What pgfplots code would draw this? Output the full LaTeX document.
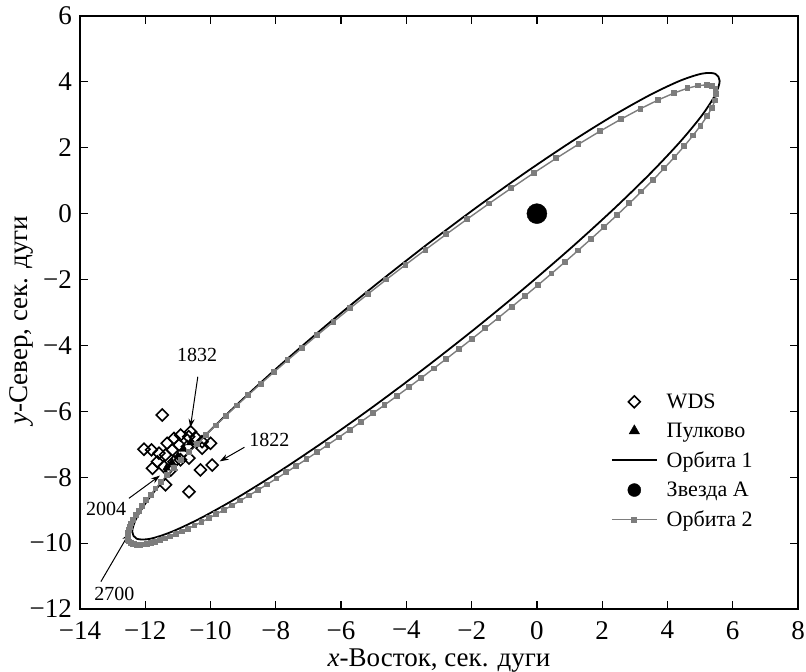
\documentclass[border=0pt]{standalone}
\usepackage{fontspec}
\setmainfont{Liberation Serif}
\usepackage{pgfplots}
\pgfplotsset{compat=1.18}
\usetikzlibrary{arrows.meta}
\definecolor{orbgray}{RGB}{125,125,125}
\begin{document}
\begin{tikzpicture}
\useasboundingbox (-80pt,-63pt) rectangle (726pt,609pt);
\begin{axis}[
  at={(0pt,0pt)}, anchor=south west,
  scale only axis, width=718pt, height=593pt,
  xmin=-14, xmax=8, ymin=-12, ymax=6,
  xtick={-14,-12,...,8}, ytick={-12,-10,...,6},
  xticklabels={−14,−12,−10,−8,−6,−4,−2,0,2,4,6,8},
  yticklabels={−12,−10,−8,−6,−4,−2,0,2,4,6},
  tick align=inside, major tick length=8pt,
  axis line style={line width=1.2pt},
  tick style={line width=1.2pt, black},
  tick label style={font=\fontsize{27}{30}\selectfont, inner sep=0pt},
  xticklabel style={yshift=-12pt},
  yticklabel style={xshift=-8pt},
  label style={font=\fontsize{27}{30}\selectfont},
  xlabel={\textit{x}-Восток, сек. дуги},
  ylabel={\textit{y}-Север, сек. дуги},
  xlabel style={at={(axis description cs:0.5,0)}, anchor=base, yshift=-57pt},
  ylabel style={at={(axis description cs:-0.081,0.487)}, anchor=center},
  legend style={at={(0.735,0.37)}, anchor=north west, draw=none, fill=none,
    font=\fontsize{22}{24}\selectfont, row sep=9pt, nodes={inner sep=2pt},
    /tikz/every odd column/.append style={column sep=7pt}},
  legend cell align=left,
  legend image code/.code={\draw[mark repeat=2,mark phase=2,#1] plot coordinates {(0pt,0pt) (22.5pt,0pt) (45pt,0pt)};},
]
% WDS
\addplot[only marks, mark=square, mark size=4.2pt, mark options={rotate=45, line width=1.6pt, black}] coordinates {
(-11.48,-6.11) (-12.04,-7.15) (-11.81,-7.17) (-11.58,-7.27) (-11.38,-7.32)
(-11.12,-6.82) (-10.92,-6.72) (-10.67,-6.77) (-10.46,-6.79) (-10.26,-6.92)
(-10.00,-6.97) (-10.26,-7.12) (-9.95,-7.63) (-10.31,-7.78) (-10.66,-7.42)
(-10.97,-7.02) (-11.17,-7.17) (-11.63,-7.53) (-11.43,-7.68) (-11.78,-7.73)
(-11.22,-7.78) (-11.38,-8.23) (-10.66,-8.44) (-11.12,-7.53) (-10.92,-7.47)
(-10.71,-7.07) (-11.33,-6.97) (-10.61,-6.62)
};
\addlegendentry{WDS}
% Pulkovo
\addplot[only marks, mark=triangle*, mark size=4.5pt, black, legend image post style={mark size=6pt}] coordinates {
(-10.62,-6.95) (-10.82,-7.15) (-11.0,-7.35) (-11.18,-7.55) (-11.35,-7.72)
};
\addlegendentry{Пулково}
% Orbit 1
\addplot[black, line width=1.8pt, smooth] coordinates {
(-3.4,-0.96) (-4.962,-2.175) (-6.478,-3.411) (-7.9,-4.628) (-9.185,-5.790)
(-10.294,-6.860) (-11.194,-7.808) (-11.857,-8.604) (-12.263,-9.225) (-12.4,-9.65)
(-12.263,-9.867) (-11.857,-9.870) (-11.194,-9.658) (-10.294,-9.238) (-9.185,-8.624)
(-7.9,-7.832) (-6.478,-6.887) (-4.962,-5.819) (-3.4,-4.66) (-1.838,-3.445)
(-0.322,-2.209) (1.1,-0.992) (2.385,0.170) (3.494,1.240) (4.394,2.188)
(5.057,2.984) (5.463,3.605) (5.6,4.03) (5.463,4.247) (5.057,4.250)
(4.394,4.038) (3.494,3.618) (2.385,3.004) (1.1,2.212) (-0.322,1.267)
(-1.838,0.199) (-3.4,-0.96)
};
\addlegendentry{Орбита 1}
% Star A
\addplot[only marks, mark=*, mark size=10pt, black, legend image post style={mark size=6.5pt}] coordinates {(0,0)};
\addlegendentry{Звезда А}
% Orbit 2
\addplot[orbgray, line width=1.4pt, mark=square*, mark size=2.2pt, mark options={orbgray}] coordinates {
(4.200,3.660) (3.716,3.451) (3.171,3.185) (2.575,2.868) (1.939,2.506)
(1.275,2.108) (0.593,1.682) (-0.095,1.236) (-0.784,0.775) (-1.464,0.308)
(-2.134,-0.163) (-2.781,-0.628) (-3.413,-1.093) (-4.025,-1.551) (-4.613,-2.000)
(-5.179,-2.440) (-5.717,-2.866) (-6.234,-3.281) (-6.729,-3.686) (-7.194,-4.073)
(-7.641,-4.451) (-8.063,-4.814) (-8.463,-5.163) (-8.843,-5.502) (-9.196,-5.822)
(-9.532,-6.132) (-9.845,-6.428) (-10.140,-6.712) (-10.416,-6.982) (-10.672,-7.239)
(-10.910,-7.486) (-11.130,-7.718) (-11.331,-7.938) (-11.517,-8.148) (-11.685,-8.344)
(-11.836,-8.528) (-11.973,-8.703) (-12.093,-8.864) (-12.199,-9.016) (-12.290,-9.158)
(-12.366,-9.287) (-12.428,-9.406) (-12.475,-9.514) (-12.510,-9.612) (-12.531,-9.699)
(-12.539,-9.777) (-12.535,-9.846) (-12.517,-9.904) (-12.487,-9.952) (-12.446,-9.990)
(-12.391,-10.019) (-12.327,-10.038) (-12.249,-10.048) (-12.160,-10.049) (-12.062,-10.040)
(-11.951,-10.022) (-11.829,-9.995) (-11.698,-9.960) (-11.555,-9.916) (-11.403,-9.862)
(-11.240,-9.800)
(-11.067,-9.730) (-10.885,-9.650) (-10.692,-9.562) (-10.491,-9.465) (-10.279,-9.360)
(-10.058,-9.246) (-9.830,-9.125) (-9.591,-8.994) (-9.343,-8.856) (-9.087,-8.709)
(-8.822,-8.554) (-8.549,-8.390) (-8.267,-8.218) (-7.979,-8.040) (-7.679,-7.851)
(-7.373,-7.655) (-7.062,-7.452) (-6.739,-7.240) (-6.414,-7.022) (-6.076,-6.793)
(-5.736,-6.560) (-5.383,-6.314) (-5.027,-6.062) (-4.667,-5.807) (-4.298,-5.540)
(-3.925,-5.268) (-3.547,-4.988) (-3.163,-4.700) (-2.774,-4.406) (-2.380,-4.104)
(-1.982,-3.795) (-1.582,-3.480) (-1.178,-3.158) (-0.771,-2.830) (-0.364,-2.498)
(0.044,-2.158) (0.449,-1.818) (0.859,-1.467) (1.263,-1.116) (1.665,-0.761)
(2.062,-0.403) (2.449,-0.048) (2.832,0.313) (3.201,0.670) (3.557,1.022)
(3.897,1.374) (4.217,1.717) (4.513,2.049) (4.781,2.370) (5.014,2.671)
(5.210,2.954) (5.360,3.211) (5.459,3.438) (5.499,3.626) (5.473,3.772)
(5.375,3.868) (5.201,3.908) (4.947,3.889) (4.612,3.807) (4.200,3.660)
};
\addlegendentry{Орбита 2}
% annotations
\node[font=\fontsize{20}{22}\selectfont] at (axis cs:-10.41,-4.3) {1832};
\draw[line width=1pt,-{Stealth[length=9pt,width=6pt]}] (axis cs:-10.39,-4.95) -- (axis cs:-10.62,-6.5);
\node[font=\fontsize{20}{22}\selectfont] at (axis cs:-8.2,-6.87) {1822};
\draw[line width=1pt,-{Stealth[length=9pt,width=6pt]}] (axis cs:-8.96,-7.09) -- (axis cs:-9.72,-7.52);
\node[font=\fontsize{20}{22}\selectfont] at (axis cs:-13.2,-8.96) {2004};
\draw[line width=1pt,-{Stealth[length=9pt,width=6pt]}] (axis cs:-12.5,-8.64) -- (axis cs:-11.55,-7.95);
\node[font=\fontsize{20}{22}\selectfont] at (axis cs:-12.95,-11.55) {2700};
\draw[line width=1pt,-{Stealth[length=9pt,width=6pt]}] (axis cs:-13.36,-11.17) -- (axis cs:-12.48,-9.68);
\end{axis}
\end{tikzpicture}
\end{document}
